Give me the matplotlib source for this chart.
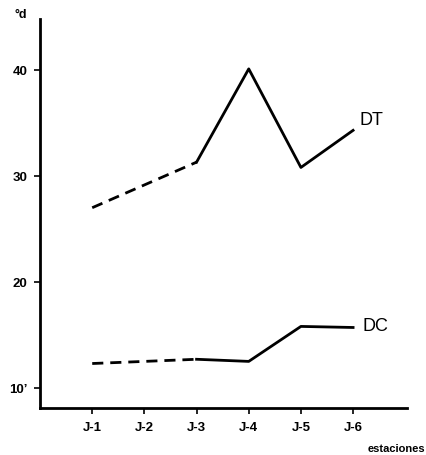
import matplotlib
matplotlib.use('Agg')
import matplotlib.pyplot as plt
import numpy as np

estaciones = ['J-1', 'J-2', 'J-3', 'J-4', 'J-5', 'J-6']
pos = [1, 2, 3, 4, 5, 6]
# J-2 has no measurement; the gap J-1 -> J-3 is drawn dashed
dt = [27.0, np.nan, 31.3, 40.1, 30.8, 34.3]
dc = [12.3, np.nan, 12.7, 12.5, 15.8, 15.7]
yticks = [10, 20, 30, 40]
ylabels = ['10\u2019', '20', '30', '40']

plt.rcParams['font.family'] = ['Liberation Sans Narrow', 'Liberation Sans', 'DejaVu Sans']
plt.rcParams['font.weight'] = 'bold'


def draw_series(ax, x, y, name, lab_xy):
    x = np.array(x, dtype=float)
    y = np.array(y, dtype=float)
    ok = ~np.isnan(y)
    xs, ys = x[ok], y[ok]
    ax.plot(xs[:2], ys[:2], '--', color='black', lw=2, dashes=(4, 2.5))
    ax.plot(xs[1:], ys[1:], '-', color='black', lw=2)
    ax.text(lab_xy[0], lab_xy[1], name, fontsize=13, fontweight='normal', ha='left', va='center')


def main():
    fig = plt.figure(figsize=(4.26, 4.56), dpi=100)
    ax = fig.add_axes([0.094, 0.103, 0.861, 0.853])
    draw_series(ax, pos, dt, 'DT', (6.12, 35.3))
    draw_series(ax, pos, dc, 'DC', (6.18, 15.9))

    ax.set_xlim(0, 7.03)
    ax.set_ylim(8.1, 44.8)
    ax.set_xticks(pos)
    ax.set_xticklabels(estaciones, fontsize=9.5)
    ax.set_yticks(yticks)
    ax.set_yticklabels(ylabels, fontsize=9.5)
    ax.tick_params(axis='both', length=4, width=1.2, direction='out', pad=5)
    for s in ['top', 'right']:
        ax.spines[s].set_visible(False)
    for s in ['left', 'bottom']:
        ax.spines[s].set_linewidth(2)

    fig.text(0.033, 0.967, '°d', fontsize=9, ha='left', va='center')
    fig.text(0.998, 0.015, 'estaciones', fontsize=8, ha='right', va='center')
    fig.savefig('out.png', dpi=100)


if __name__ == '__main__':
    main()
